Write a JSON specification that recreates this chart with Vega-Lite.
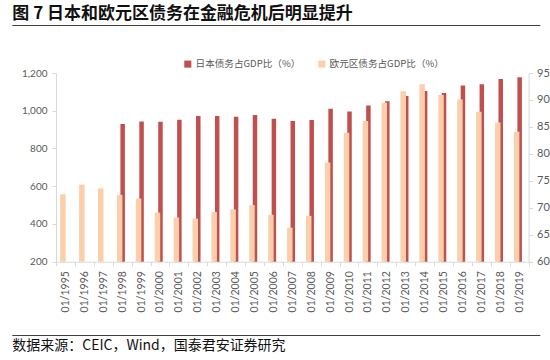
{
  "$schema": "https://vega.github.io/schema/vega-lite/v6.json",
  "background": "white",
  "padding": {"left": 12, "top": 5, "right": 0, "bottom": 0},
  "title": {
    "text": "图 7 日本和欧元区债务在金融危机后明显提升",
    "anchor": "start",
    "font": "Noto Sans CJK SC",
    "fontSize": 17,
    "fontWeight": "bold",
    "color": "#111111",
    "offset": 1
  },
  "spacing": 11,
  "config": {
    "view": {"stroke": null},
    "font": "Noto Sans CJK SC",
    "axis": {
      "labelFont": "Lato",
      "labelColor": "#595959",
      "domainColor": "#d9d9d9",
      "tickColor": "#d9d9d9",
      "grid": false
    }
  },
  "datasets": {
    "d": [
      {"year": "01/1995", "series": "欧元区债务占GDP比（%）", "value": 72.5},
      {"year": "01/1996", "series": "欧元区债务占GDP比（%）", "value": 74.3},
      {"year": "01/1997", "series": "欧元区债务占GDP比（%）", "value": 73.6},
      {"year": "01/1998", "series": "欧元区债务占GDP比（%）", "value": 72.4},
      {"year": "01/1999", "series": "欧元区债务占GDP比（%）", "value": 71.7},
      {"year": "01/2000", "series": "欧元区债务占GDP比（%）", "value": 69.1},
      {"year": "01/2001", "series": "欧元区债务占GDP比（%）", "value": 68.2},
      {"year": "01/2002", "series": "欧元区债务占GDP比（%）", "value": 68.0},
      {"year": "01/2003", "series": "欧元区债务占GDP比（%）", "value": 69.2},
      {"year": "01/2004", "series": "欧元区债务占GDP比（%）", "value": 69.7},
      {"year": "01/2005", "series": "欧元区债务占GDP比（%）", "value": 70.5},
      {"year": "01/2006", "series": "欧元区债务占GDP比（%）", "value": 68.7},
      {"year": "01/2007", "series": "欧元区债务占GDP比（%）", "value": 66.3},
      {"year": "01/2008", "series": "欧元区债务占GDP比（%）", "value": 68.5},
      {"year": "01/2009", "series": "欧元区债务占GDP比（%）", "value": 78.4},
      {"year": "01/2010", "series": "欧元区债务占GDP比（%）", "value": 83.9},
      {"year": "01/2011", "series": "欧元区债务占GDP比（%）", "value": 86.1},
      {"year": "01/2012", "series": "欧元区债务占GDP比（%）", "value": 89.5},
      {"year": "01/2013", "series": "欧元区债务占GDP比（%）", "value": 91.6},
      {"year": "01/2014", "series": "欧元区债务占GDP比（%）", "value": 92.9},
      {"year": "01/2015", "series": "欧元区债务占GDP比（%）", "value": 90.9},
      {"year": "01/2016", "series": "欧元区债务占GDP比（%）", "value": 90.1},
      {"year": "01/2017", "series": "欧元区债务占GDP比（%）", "value": 87.8},
      {"year": "01/2018", "series": "欧元区债务占GDP比（%）", "value": 85.8},
      {"year": "01/2019", "series": "欧元区债务占GDP比（%）", "value": 84.1},
      {"year": "01/1998", "series": "日本债务占GDP比（%）", "value": 930},
      {"year": "01/1999", "series": "日本债务占GDP比（%）", "value": 943},
      {"year": "01/2000", "series": "日本债务占GDP比（%）", "value": 942},
      {"year": "01/2001", "series": "日本债务占GDP比（%）", "value": 952},
      {"year": "01/2002", "series": "日本债务占GDP比（%）", "value": 972},
      {"year": "01/2003", "series": "日本债务占GDP比（%）", "value": 972},
      {"year": "01/2004", "series": "日本债务占GDP比（%）", "value": 968},
      {"year": "01/2005", "series": "日本债务占GDP比（%）", "value": 977},
      {"year": "01/2006", "series": "日本债务占GDP比（%）", "value": 958},
      {"year": "01/2007", "series": "日本债务占GDP比（%）", "value": 946},
      {"year": "01/2008", "series": "日本债务占GDP比（%）", "value": 951},
      {"year": "01/2009", "series": "日本债务占GDP比（%）", "value": 1011},
      {"year": "01/2010", "series": "日本债务占GDP比（%）", "value": 996},
      {"year": "01/2011", "series": "日本债务占GDP比（%）", "value": 1028},
      {"year": "01/2012", "series": "日本债务占GDP比（%）", "value": 1050},
      {"year": "01/2013", "series": "日本债务占GDP比（%）", "value": 1078},
      {"year": "01/2014", "series": "日本债务占GDP比（%）", "value": 1105},
      {"year": "01/2015", "series": "日本债务占GDP比（%）", "value": 1094},
      {"year": "01/2016", "series": "日本债务占GDP比（%）", "value": 1134},
      {"year": "01/2017", "series": "日本债务占GDP比（%）", "value": 1140},
      {"year": "01/2018", "series": "日本债务占GDP比（%）", "value": 1168},
      {"year": "01/2019", "series": "日本债务占GDP比（%）", "value": 1177}
    ]
  },
  "vconcat": [
    {
      "width": 472.6,
      "height": 2,
      "data": {"values": [{"from": 0, "to": 1, "lo": 0, "hi": 1}]},
      "mark": {"type": "rect", "fill": "#404040"},
      "encoding": {
        "x": {"field": "from", "type": "quantitative", "scale": {"domain": [0, 1], "range": [-43.7, 484.3], "zero": false, "nice": false}, "axis": null},
        "x2": {"field": "to"},
        "y": {"field": "lo", "type": "quantitative", "scale": {"domain": [0, 2], "zero": false, "nice": false}, "axis": null},
        "y2": {"field": "hi"}
      }
    },
    {
      "width": 472.6,
      "height": 188.7,
      "data": {"name": "d"},
      "encoding": {
        "x": {
          "field": "year",
          "type": "ordinal",
          "scale": {"paddingInner": 0, "paddingOuter": 0},
          "axis": {
            "title": null,
            "labelAngle": -90,
            "labelAlign": "right",
            "labelBaseline": "middle",
            "labelFontSize": 10.5,
            "labelPadding": 5,
            "tickSize": 4,
            "tickBand": "extent",
            "domainColor": "#d9d9d9"
          }
        }
      },
      "layer": [
        {
          "transform": [{"filter": "datum.series === '日本债务占GDP比（%）'"}],
          "mark": {"type": "bar", "width": 4.5, "xOffset": 0.5},
          "encoding": {
            "y": {
              "field": "value",
              "type": "quantitative",
              "scale": {"domain": [200, 1200], "nice": false, "zero": false},
              "axis": {
                "values": [200, 400, 600, 800, 1000, 1200],
                "format": ",.0f",
                "labelFontSize": 10,
                "labelPadding": 5,
                "tickSize": 4,
                "title": ".",
                "titleOpacity": 0,
                "titleAngle": 0,
                "titleFontSize": 4,
                "titleX": -43.7,
                "titleY": -36,
                "titleAlign": "left",
                "titleBaseline": "top"
              }
            },
            "y2": {"datum": 200},
            "color": {
              "field": "series",
              "type": "nominal",
              "scale": {
                "domain": ["日本债务占GDP比（%）", "欧元区债务占GDP比（%）"],
                "range": ["#C0504D", "#FBCFAC"]
              },
              "legend": {
                "title": null,
                "orient": "none",
                "legendX": 127,
                "legendY": 35,
                "direction": "horizontal",
                "symbolType": "square",
                "symbolSize": 50,
                "symbolStrokeWidth": 0,
                "labelFont": "Noto Sans CJK SC",
                "labelFontSize": 9.6,
                "labelColor": "#595959",
                "columnPadding": 16,
                "labelOffset": 3
              }
            }
          }
        },
        {
          "transform": [{"filter": "datum.series === '欧元区债务占GDP比（%）'"}],
          "mark": {"type": "bar", "width": 5.5, "xOffset": -2.5},
          "encoding": {
            "y": {
              "field": "value",
              "type": "quantitative",
              "scale": {"domain": [60, 95], "nice": false, "zero": false},
              "axis": {
                "orient": "right",
                "values": [60, 65, 70, 75, 80, 85, 90, 95],
                "labelFontSize": 11,
                "labelPadding": 4,
                "tickSize": 4,
                "title": ".",
                "titleOpacity": 0,
                "titleAngle": 0,
                "titleFontSize": 4,
                "titleX": 8,
                "titleY": 249.7,
                "titleAlign": "left",
                "titleBaseline": "bottom"
              }
            },
            "y2": {"datum": 60},
            "color": {
              "field": "series",
              "type": "nominal",
              "scale": {
                "domain": ["日本债务占GDP比（%）", "欧元区债务占GDP比（%）"],
                "range": ["#C0504D", "#FBCFAC"]
              },
              "legend": {
                "title": null,
                "orient": "none",
                "legendX": 127,
                "legendY": 35,
                "direction": "horizontal",
                "symbolType": "square",
                "symbolSize": 50,
                "symbolStrokeWidth": 0,
                "labelFont": "Noto Sans CJK SC",
                "labelFontSize": 9.6,
                "labelColor": "#595959",
                "columnPadding": 16,
                "labelOffset": 3
              }
            }
          }
        }
      ],
      "resolve": {"scale": {"y": "independent"}}
    },
    {
      "width": 472.6,
      "height": 2,
      "data": {"values": [{"from": 0, "to": 1, "lo": 0, "hi": 1}]},
      "mark": {"type": "rect", "fill": "#404040"},
      "encoding": {
        "x": {"field": "from", "type": "quantitative", "scale": {"domain": [0, 1], "range": [-43.7, 484.3], "zero": false, "nice": false}, "axis": null},
        "x2": {"field": "to"},
        "y": {"field": "lo", "type": "quantitative", "scale": {"domain": [0, 2], "zero": false, "nice": false}, "axis": null},
        "y2": {"field": "hi"}
      },
      "title": {
        "text": "数据来源：CEIC，Wind，国泰君安证券研究",
        "orient": "bottom",
        "anchor": "start",
        "font": "Noto Sans CJK SC",
        "fontSize": 14,
        "fontWeight": "normal",
        "color": "#111111",
        "offset": 3
      }
    }
  ]
}
